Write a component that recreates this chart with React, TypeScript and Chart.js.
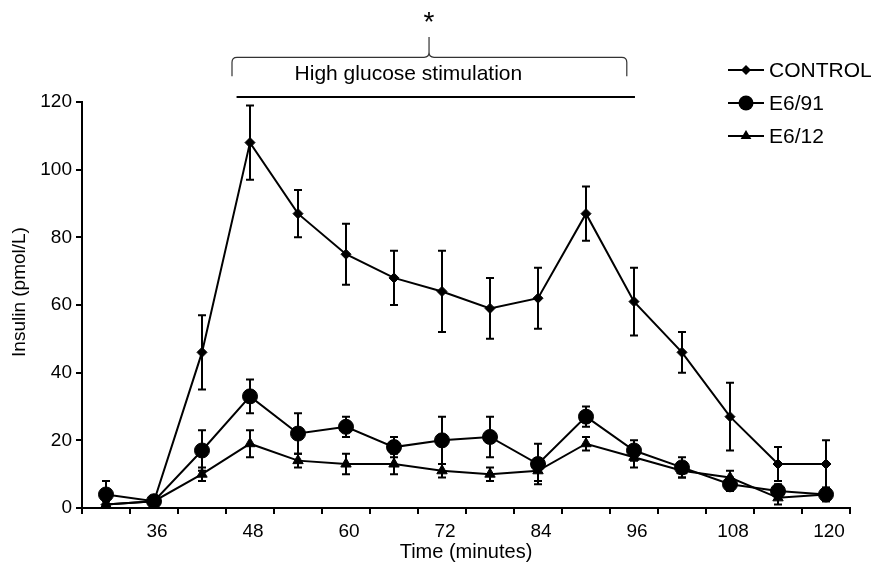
import React, { useEffect, useRef } from "react";
import { Chart, registerables } from "chart.js";

Chart.register(...registerables);

const categories = ["30", "36", "42", "48", "54", "60", "66", "72", "78", "84", "90", "96", "102", "108", "114", "120"];
const xTickLabels = ["", "36", "", "48", "", "60", "", "72", "", "84", "", "96", "", "108", "", "120"];

const controlValues = [1, 2, 46, 108, 87, 75, 68, 64, 59, 62, 87, 61, 46, 27, 13, 13];
const controlErrors = [1, 0, 11, 11, 7, 9, 8, 12, 9, 9, 8, 10, 6, 10, 5, 7];

const e691Values = [4, 2, 17, 33, 22, 24, 18, 20, 21, 13, 27, 17, 12, 7, 5, 4];
const e691Errors = [4, 1, 6, 5, 6, 3, 3, 7, 6, 6, 3, 3, 3, 2, 2, 2];

const e612Values = [1, 2, 10, 19, 14, 13, 13, 11, 10, 11, 19, 15, 11, 9, 3, 4];
const e612Errors = [1, 1, 2, 4, 2, 3, 3, 2, 2, 3, 2, 3, 2, 2, 2, 2];

const seriesNames = ["CONTROL", "E6/91", "E6/12"];
const annotationText = "High glucose stimulation";
const significanceMark = "*";

const FONT = "'Liberation Sans', Arial, sans-serif";

const errorBarsPlugin = {
  id: "errorBars",
  beforeDatasetsDraw(chart: any) {
    const ctx = chart.ctx;
    const xs = chart.scales.x;
    const ys = chart.scales.y;
    ctx.save();
    ctx.strokeStyle = "#000";
    ctx.lineWidth = 2;
    chart.data.datasets.forEach((ds: any) => {
      const errs: number[] = ds.errors || [];
      ds.data.forEach((v: number, i: number) => {
        const e = errs[i];
        if (!e) return;
        const x = xs.getPixelForValue(i);
        const yt = ys.getPixelForValue(v + e);
        const yb = ys.getPixelForValue(Math.max(0, v - e));
        ctx.beginPath();
        ctx.moveTo(x, yt);
        ctx.lineTo(x, yb);
        ctx.moveTo(x - 4, yt);
        ctx.lineTo(x + 4, yt);
        ctx.moveTo(x - 4, yb);
        ctx.lineTo(x + 4, yb);
        ctx.stroke();
      });
    });
    ctx.restore();
  },
};

function drawMarker(ctx: CanvasRenderingContext2D, style: string, r: number, x: number, y: number) {
  ctx.save();
  ctx.fillStyle = "#000";
  ctx.beginPath();
  if (style === "circle") {
    ctx.arc(x, y, r, 0, Math.PI * 2);
  } else if (style === "rectRot") {
    ctx.moveTo(x, y - r);
    ctx.lineTo(x + r, y);
    ctx.lineTo(x, y + r);
    ctx.lineTo(x - r, y);
    ctx.closePath();
  } else {
    const h = r * 1.5;
    ctx.moveTo(x, y - r);
    ctx.lineTo(x + r * 0.9, y + h - r);
    ctx.lineTo(x - r * 0.9, y + h - r);
    ctx.closePath();
  }
  ctx.fill();
  ctx.restore();
}

const decorPlugin = {
  id: "decor",
  afterDraw(chart: any) {
    const ctx = chart.ctx;
    const xs = chart.scales.x;
    const ys = chart.scales.y;
    ctx.save();
    ctx.fillStyle = "#000";
    ctx.strokeStyle = "#000";

    // y-axis title
    ctx.save();
    ctx.translate(20, (chart.chartArea.top + chart.chartArea.bottom) / 2 - 13);
    ctx.rotate(-Math.PI / 2);
    ctx.font = `19px ${FONT}`;
    ctx.textAlign = "center";
    ctx.textBaseline = "middle";
    ctx.fillText("Insulin (pmol/L)", 0, 0);
    ctx.restore();

    // stimulation line
    const lx1 = xs.getPixelForValue(2.72);
    const lx2 = xs.getPixelForValue(11.02);
    const ly = ys.getPixelForValue(121.5);
    ctx.lineWidth = 2;
    ctx.beginPath();
    ctx.moveTo(lx1, ly);
    ctx.lineTo(lx2, ly);
    ctx.stroke();

    // text
    ctx.font = `21px ${FONT}`;
    ctx.textAlign = "center";
    ctx.textBaseline = "middle";
    ctx.fillText(annotationText, xs.getPixelForValue(6.3), ys.getPixelForValue(128.2));

    // brace
    const bx1 = xs.getPixelForValue(2.625);
    const bx2 = xs.getPixelForValue(10.85);
    const bxc = xs.getPixelForValue(6.73);
    const byEnd = ys.getPixelForValue(127.6);
    const byMid = ys.getPixelForValue(133.2);
    const byTop = ys.getPixelForValue(139.2);
    ctx.lineWidth = 1.2;
    ctx.strokeStyle = "#333";
    ctx.beginPath();
    ctx.moveTo(bx1, byEnd);
    ctx.lineTo(bx1, byMid + 5);
    ctx.quadraticCurveTo(bx1, byMid, bx1 + 5, byMid);
    ctx.lineTo(bxc - 5, byMid);
    ctx.quadraticCurveTo(bxc, byMid, bxc, byMid - 5);
    ctx.lineTo(bxc, byTop);
    ctx.moveTo(bxc, byMid - 5);
    ctx.quadraticCurveTo(bxc, byMid, bxc + 5, byMid);
    ctx.lineTo(bx2 - 5, byMid);
    ctx.quadraticCurveTo(bx2, byMid, bx2, byMid + 5);
    ctx.lineTo(bx2, byEnd);
    ctx.stroke();

    // asterisk
    ctx.fillStyle = "#000";
    ctx.font = `28px ${FONT}`;
    ctx.textAlign = "center";
    ctx.textBaseline = "middle";
    ctx.fillText(significanceMark, bxc, ys.getPixelForValue(143.4));

    // legend
    ctx.strokeStyle = "#000";
    chart.data.datasets.forEach((ds: any, i: number) => {
      const y = 70 + i * 33;
      ctx.lineWidth = 2;
      ctx.beginPath();
      ctx.moveTo(728, y);
      ctx.lineTo(764, y);
      ctx.stroke();
      drawMarker(ctx, ds.pointStyle, ds.pointRadius, 746, y);
      ctx.fillStyle = "#000";
      ctx.font = `21px ${FONT}`;
      ctx.textAlign = "left";
      ctx.textBaseline = "middle";
      ctx.fillText(ds.label, 769, y + 1);
    });
    ctx.restore();
  },
};

export default function App() {
  const ref = useRef<HTMLCanvasElement | null>(null);
  useEffect(() => {
    if (!ref.current) return;
    const mk = (label: string, data: number[], errors: number[], style: string, radius: number) => ({
      label,
      data,
      errors,
      borderColor: "#000",
      backgroundColor: "#000",
      borderWidth: 2,
      pointStyle: style,
      pointRadius: radius,
      pointBackgroundColor: "#000",
      pointBorderColor: "#000",
      pointBorderWidth: 1,
      tension: 0,
      fill: false,
    });
    const chart = new Chart(ref.current, {
      type: "line",
      data: {
        labels: categories,
        datasets: [
          mk(seriesNames[0], controlValues, controlErrors, "rectRot", 5),
          mk(seriesNames[1], e691Values, e691Errors, "circle", 7.5),
          mk(seriesNames[2], e612Values, e612Errors, "triangle", 6),
        ] as any,
      },
      options: {
        responsive: false,
        animation: false,
        layout: { padding: { top: 102, right: 24, left: 0, bottom: 0 } },
        plugins: { legend: { display: false }, tooltip: { enabled: false } },
        scales: {
          x: {
            type: "category",
            offset: true,
            grid: { offset: true, drawOnChartArea: false, drawTicks: true, tickLength: 6, color: "#000", lineWidth: 2 },
            border: { display: true, color: "#000", width: 2 },
            ticks: {
              autoSkip: false,
              maxRotation: 0,
              padding: 6,
              labelOffset: 3,
              color: "#000",
              font: { size: 19, family: FONT },
              callback: (_v: any, i: number) => xTickLabels[i],
            },
            title: { display: true, text: "Time (minutes)", color: "#000", font: { size: 20, family: FONT }, padding: { top: 0, bottom: 2 } },
            afterFit: (s: any) => {
              s.height = 58;
            },
          },
          y: {
            min: 0,
            max: 120,
            ticks: { stepSize: 20, padding: 4, color: "#000", font: { size: 19, family: FONT } },
            grid: { drawOnChartArea: false, drawTicks: true, tickLength: 6, color: "#000", lineWidth: 2 },
            border: { display: true, color: "#000", width: 2 },
            afterFit: (s: any) => {
              s.width = 82;
            },
          },
        },
      } as any,
      plugins: [errorBarsPlugin, decorPlugin],
    });
    return () => chart.destroy();
  }, []);
  return (
    <div style={{ position: "fixed", left: 0, top: 0, width: 874, height: 566, background: "#fff" }}>
      <canvas ref={ref} width={874} height={566} style={{ width: 874, height: 566 }} />
    </div>
  );
}
